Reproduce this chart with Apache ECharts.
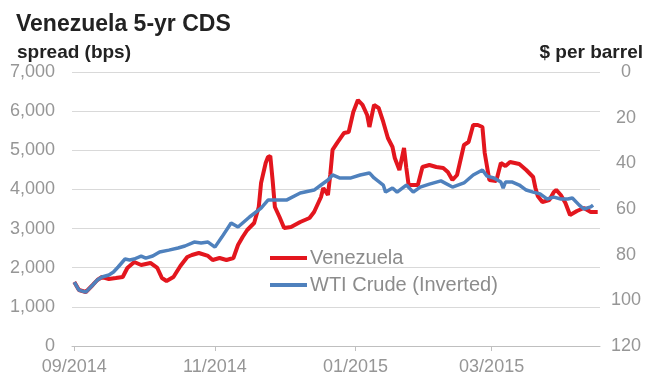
<!DOCTYPE html>
<html>
<head>
<meta charset="utf-8">
<script src="https://cdn.jsdelivr.net/npm/echarts@6/dist/echarts.min.js"></script>
<style>
  html, body { margin: 0; padding: 0; background: #fff; }
  #chart { width: 652px; height: 378px; }
</style>
</head>
<body>
<div id="chart"></div>
<script>
// Venezuela 5-yr CDS spread (bps)
const cdsDates = [
  '2014-09-01', '2014-09-03', '2014-09-06', '2014-09-09', '2014-09-11', '2014-09-13', '2014-09-16',
  '2014-09-19', '2014-09-22', '2014-09-24', '2014-09-27', '2014-09-30', '2014-10-04', '2014-10-07',
  '2014-10-09', '2014-10-11', '2014-10-14', '2014-10-17', '2014-10-20', '2014-10-22', '2014-10-25',
  '2014-10-29', '2014-10-31', '2014-11-03', '2014-11-06', '2014-11-09', '2014-11-11', '2014-11-13',
  '2014-11-15', '2014-11-18', '2014-11-20', '2014-11-21', '2014-11-23', '2014-11-24', '2014-11-25',
  '2014-11-26', '2014-11-27', '2014-11-29', '2014-12-01', '2014-12-04', '2014-12-08', '2014-12-12',
  '2014-12-14', '2014-12-17', '2014-12-18', '2014-12-20', '2014-12-21', '2014-12-22', '2014-12-24',
  '2014-12-27', '2014-12-29', '2014-12-31', '2015-01-02', '2015-01-04', '2015-01-06', '2015-01-07',
  '2015-01-09', '2015-01-11', '2015-01-13', '2015-01-15', '2015-01-17', '2015-01-18', '2015-01-20',
  '2015-01-22', '2015-01-23', '2015-01-24', '2015-01-26', '2015-01-28', '2015-01-30', '2015-02-02',
  '2015-02-05', '2015-02-08', '2015-02-10', '2015-02-12', '2015-02-14', '2015-02-17', '2015-02-19',
  '2015-02-21', '2015-02-23', '2015-02-25', '2015-02-26', '2015-02-28', '2015-03-03', '2015-03-05',
  '2015-03-07', '2015-03-09', '2015-03-13', '2015-03-16', '2015-03-19', '2015-03-20', '2015-03-21',
  '2015-03-23', '2015-03-26', '2015-03-28', '2015-03-29', '2015-03-31', '2015-04-02', '2015-04-04',
  '2015-04-07', '2015-04-10', '2015-04-13', '2015-04-16'
];
const cdsValues = [
  1635, 1431, 1380, 1559, 1686, 1763, 1712,
  1737, 1763, 1993, 2146, 2070, 2121, 1993,
  1737, 1661, 1763, 2044, 2274, 2325, 2376,
  2300, 2197, 2248, 2197, 2248, 2581, 2785,
  2964, 3143, 3551, 4165, 4676, 4829, 4855,
  4241, 3551, 3296, 3015, 3040, 3168, 3270,
  3424, 3807, 4037, 3858, 4369, 5008, 5187,
  5442, 5468, 5979, 6285, 6158, 5902, 5595,
  6158, 6081, 5723, 5314, 5084, 4803, 4497,
  5059, 4548, 4113, 4113, 4113, 4573, 4625,
  4573, 4548, 4446, 4241, 4369, 5136, 5212,
  5647, 5647, 5595, 4931, 4241, 4216, 4676,
  4599, 4701, 4650, 4497, 4318, 4037, 3833,
  3679, 3730, 3935, 3986, 3858, 3654, 3347,
  3449, 3526, 3424, 3424
];

// WTI crude, $ per barrel (plotted on an inverted axis)
const wtiDates = [
  '2014-09-01', '2014-09-03', '2014-09-06', '2014-09-09', '2014-09-11', '2014-09-13', '2014-09-16',
  '2014-09-18', '2014-09-20', '2014-09-23', '2014-09-25', '2014-09-27', '2014-09-30', '2014-10-02',
  '2014-10-05', '2014-10-08', '2014-10-12', '2014-10-16', '2014-10-19', '2014-10-23', '2014-10-26',
  '2014-10-29', '2014-11-01', '2014-11-04', '2014-11-08', '2014-11-11', '2014-11-16', '2014-11-21',
  '2014-11-24', '2014-11-28', '2014-12-02', '2014-12-08', '2014-12-14', '2014-12-17', '2014-12-20',
  '2014-12-22', '2014-12-25', '2014-12-30', '2015-01-03', '2015-01-07', '2015-01-09', '2015-01-13',
  '2015-01-14', '2015-01-17', '2015-01-19', '2015-01-23', '2015-01-26', '2015-01-29', '2015-02-02',
  '2015-02-07', '2015-02-12', '2015-02-17', '2015-02-21', '2015-02-25', '2015-02-27', '2015-03-02',
  '2015-03-05', '2015-03-06', '2015-03-07', '2015-03-10', '2015-03-13', '2015-03-16', '2015-03-19',
  '2015-03-22', '2015-03-25', '2015-03-28', '2015-03-31', '2015-04-03', '2015-04-05', '2015-04-08',
  '2015-04-10', '2015-04-13', '2015-04-14'
];
const wtiValues = [
  92.0, 95.5, 96.4, 93.3, 91.1, 89.8, 88.9,
  87.6, 85.4, 81.9, 82.3, 81.9, 80.6, 81.5,
  80.6, 78.8, 78.0, 77.1, 76.2, 74.5, 74.9,
  74.5, 76.7, 72.3, 66.1, 67.9, 63.5, 59.6,
  56.1, 56.1, 56.1, 53.0, 51.7, 49.5, 47.3,
  45.1, 46.4, 46.4, 45.1, 44.2, 46.4, 49.5,
  52.6, 50.8, 52.6, 49.5, 52.6, 50.4, 49.1,
  47.7, 50.4, 48.6, 45.1, 42.9, 45.6, 46.4,
  48.2, 50.8, 48.2, 48.2, 49.5, 51.7, 52.6,
  53.4, 55.6, 54.8, 55.6, 55.6, 55.2, 58.3,
  60.0, 59.1, 58.3
];

const leftTicks = { min: 0, max: 7000, interval: 1000 };
const rightTicks = { min: 0, max: 120, interval: 20 };
const shownMonths = [0, 2, 8, 10]; // 01, 03, 09, 11

const chart = echarts.init(document.getElementById('chart'), null, { renderer: 'canvas' });

const font = 'Liberation Sans, Arial, sans-serif';
const grey = '#969696';

chart.setOption({
  backgroundColor: '#fff',
  animation: false,
  textStyle: { fontFamily: font },
  title: [
    { text: 'Venezuela 5-yr CDS', left: 11, top: 8,
      textStyle: { fontSize: 23, fontWeight: 'bold', color: '#222', fontFamily: font } },
    { text: 'spread (bps)', left: 12, top: 38,
      textStyle: { fontSize: 19, fontWeight: 'bold', color: '#222', fontFamily: font } },
    { text: '$ per barrel', right: 4, top: 38,
      textStyle: { fontSize: 19, fontWeight: 'bold', color: '#222', fontFamily: font } }
  ],
  legend: {
    orient: 'vertical',
    left: 265,
    top: 243,
    itemWidth: 37,
    itemHeight: 4,
    itemGap: 7,
    icon: 'rect',
    textStyle: { fontSize: 20, color: '#8c8c8c', fontFamily: font, padding: [0, 0, 0, -2] },
    data: ['Venezuela', 'WTI Crude (Inverted)']
  },
  grid: { left: 72, right: 52, top: 72, bottom: 32 },
  xAxis: {
    type: 'time',
    min: '2014-08-31',
    max: '2015-04-17',
    minInterval: 61 * 86400000,
    maxInterval: 62 * 86400000,
    axisLine: { show: true, lineStyle: { color: '#bfbfbf', width: 1 } },
    axisTick: { show: true, length: 5, lineStyle: { color: '#bfbfbf' } },
    splitLine: { show: false },
    axisLabel: {
      fontSize: 18,
      color: grey,
      margin: 12,
      fontFamily: font,
      formatter: function (val) {
        const d = new Date(val);
        if (d.getDate() !== 1 || shownMonths.indexOf(d.getMonth()) < 0) return '';
        const m = d.getMonth() + 1;
        return (m < 10 ? '0' + m : '' + m) + '/' + d.getFullYear();
      }
    }
  },
  yAxis: [
    {
      type: 'value',
      min: leftTicks.min,
      max: leftTicks.max,
      interval: leftTicks.interval,
      axisLine: { show: false },
      axisTick: { show: false },
      splitLine: { lineStyle: { color: '#d9d9d9', width: 1 } },
      axisLabel: {
        fontSize: 18,
        color: grey,
        margin: 17,
        fontFamily: font,
        formatter: function (v) { return v.toLocaleString('en-US'); }
      }
    },
    {
      type: 'value',
      inverse: true,
      min: rightTicks.min,
      max: rightTicks.max,
      interval: rightTicks.interval,
      axisLine: { show: false },
      axisTick: { show: false },
      splitLine: { show: false },
      axisLabel: {
        fontSize: 18,
        color: grey,
        margin: 26,
        align: 'center',
        fontFamily: font
      }
    }
  ],
  series: [
    {
      name: 'Venezuela',
      type: 'line',
      yAxisIndex: 0,
      showSymbol: false,
      symbol: 'none',
      color: '#e3161e',
      lineStyle: { width: 4, color: '#e3161e' },
      data: cdsDates.map((d, i) => [d, cdsValues[i]])
    },
    {
      name: 'WTI Crude (Inverted)',
      type: 'line',
      yAxisIndex: 1,
      showSymbol: false,
      symbol: 'none',
      color: '#4f81bd',
      lineStyle: { width: 3.5, color: '#4f81bd' },
      data: wtiDates.map((d, i) => [d, wtiValues[i]])
    }
  ]
});

window.addEventListener('resize', chart.resize);
</script>
</body>
</html>
